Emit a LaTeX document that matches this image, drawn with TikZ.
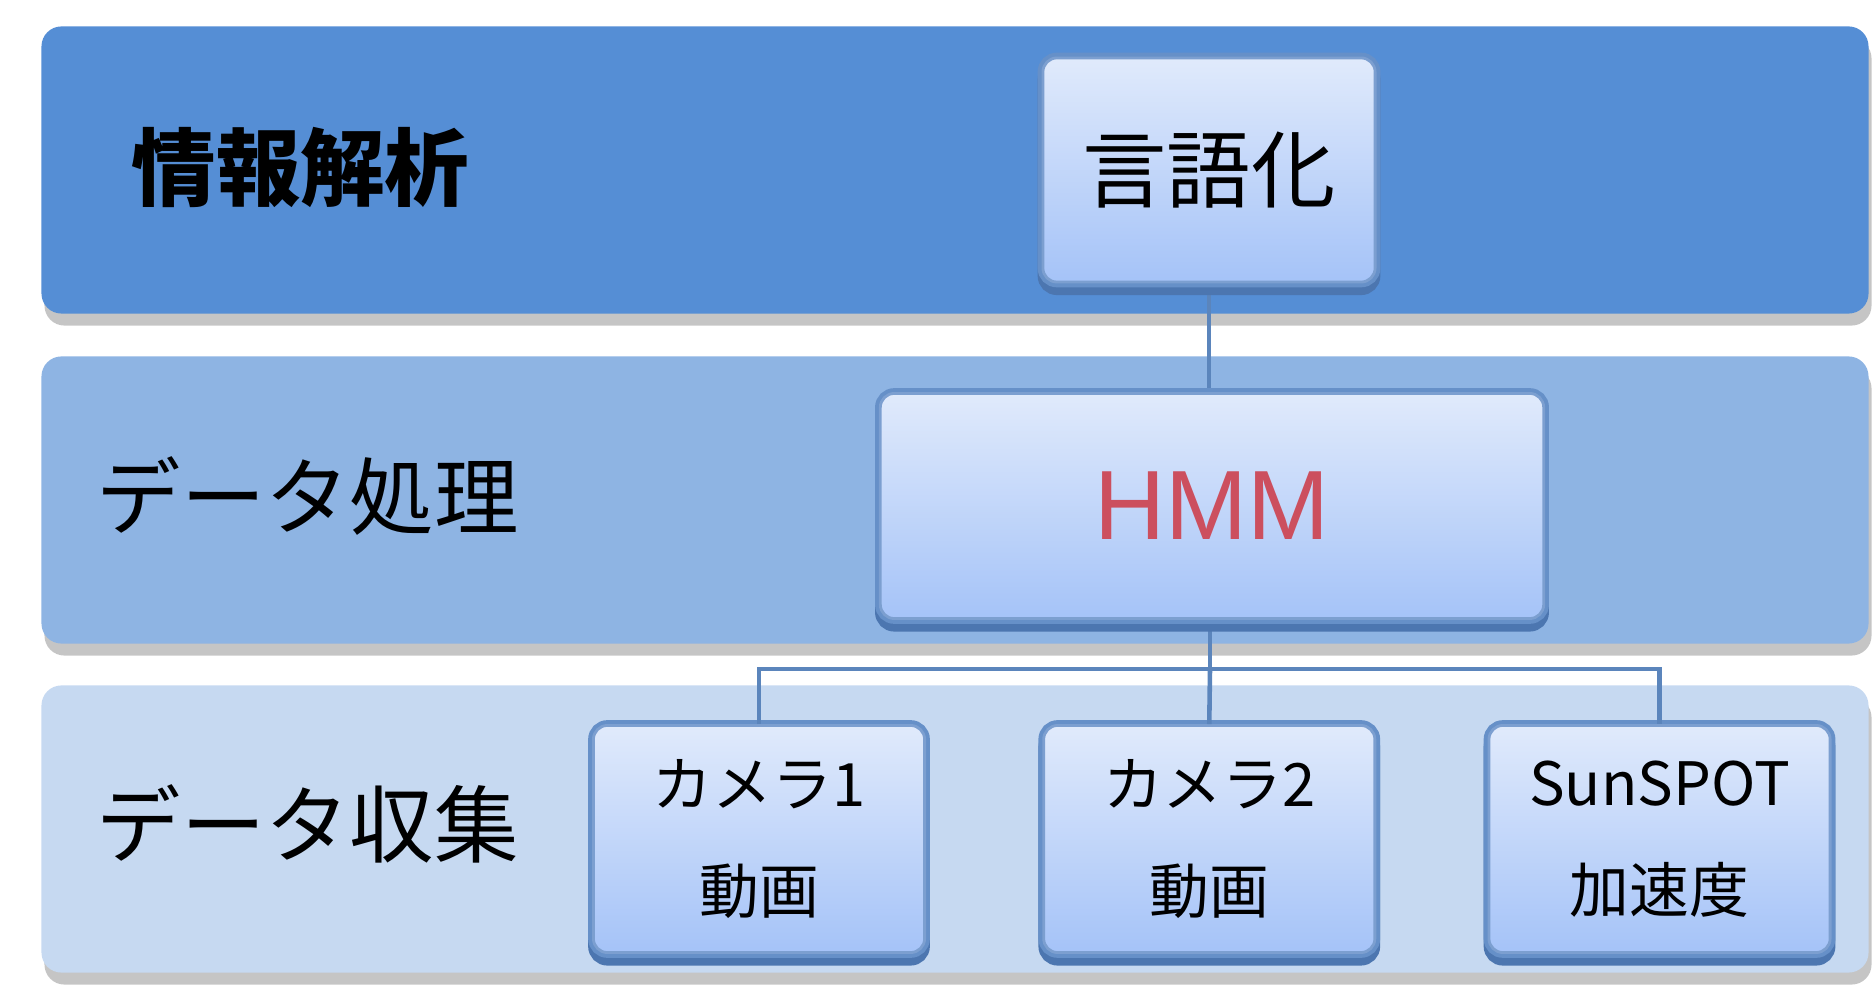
\documentclass[tikz,border=0pt]{standalone}
\usepackage{fontspec}
\setmainfont{Noto Sans CJK JP}
\newfontfamily\hmmfont{Liberation Sans}
\usepackage{xcolor}
\usetikzlibrary{positioning}
\usetikzlibrary{shadows}
\definecolor{bandA}{HTML}{558ED5}
\definecolor{bandB}{HTML}{8EB4E3}
\definecolor{bandC}{HTML}{C6D9F1}
\definecolor{boxtop}{HTML}{E0EAFB}
\definecolor{boxbot}{HTML}{A5C3F8}
\definecolor{boxedge}{HTML}{7C9FD0}
\definecolor{bevel}{HTML}{6690C8}
\definecolor{bevellow}{HTML}{4C76B0}
\definecolor{linkblue}{HTML}{5B85BC}
\definecolor{hmmred}{HTML}{CC4F5E}
\tikzset{
  band/.style={rounded corners=0.2cm, minimum width=18.26cm, minimum height=2.87cm,
    inner sep=0pt, drop shadow={shadow xshift=0.03cm, shadow yshift=-0.12cm,
    fill=black!45, opacity=0.5}},
  unitbox/.style={rounded corners=0.14cm, draw=boxedge, line width=0.8pt,
    top color=boxtop, bottom color=boxbot, inner sep=0pt, align=center,
    preaction={draw=bevellow, line width=3pt, transform canvas={yshift=-2.2pt}},
    preaction={draw=bevel, line width=3pt}},
  bandlabel/.style={anchor=west, inner sep=0pt, font=\fontsize{24}{28}\selectfont},
  link/.style={draw=linkblue, line width=1.3pt}
}
\begin{document}
\begin{tikzpicture}[x=0.01cm, y=-0.01cm, node distance=4.5cm]
  \useasboundingbox (0,0) rectangle (1873,998);
  % layers
  \node [band, fill=bandA] (analysis) at (955,170) {};
  \node [band, fill=bandB] (process) at (955,500) {};
  \node [band, fill=bandC] (collect) at (955,829) {};
  \node [bandlabel, font=\fontsize{24}{28}\selectfont\bfseries] (analysislabel) at (131,167) {情報解析};
  \node [bandlabel] (processlabel) at (96,496) {データ処理};
  \node [bandlabel] (collectlabel) at (96,824) {データ収集};

  \coordinate (bus) at (1210,669);

  % connectors
  \path [link] (1209,172) -- (1209,508);
  \path [link] (1210,508) -- (bus);

  \node [unitbox, minimum width=3.32cm, minimum height=2.24cm,
         font=\fontsize{24}{28}\selectfont] (verbal) at (1209,170) {言語化};
  \node [unitbox, minimum width=6.63cm, minimum height=2.25cm,
         font=\hmmfont\fontsize{28}{30}\selectfont, text=hmmred] (hmm) at (1212,506) {HMM};
  \node [unitbox, minimum width=3.31cm, minimum height=2.27cm,
         font=\fontsize{17}{30.5}\selectfont] (cam1) at (759,839) {カメラ1\\動画};
  \node [unitbox, minimum width=3.31cm, minimum height=2.27cm,
         font=\fontsize{17}{30.5}\selectfont, right of=cam1] (cam2) {カメラ2\\動画};
  \node [unitbox, minimum width=3.41cm, minimum height=2.27cm,
         font=\fontsize{17}{30.5}\selectfont, right of=cam2] (sun) {SunSPOT\\加速度};

  \path [link] (cam1.north) |- (bus) -| (sun.north);
  \path [link] (bus) -- (cam2.north);
\end{tikzpicture}
\end{document}
